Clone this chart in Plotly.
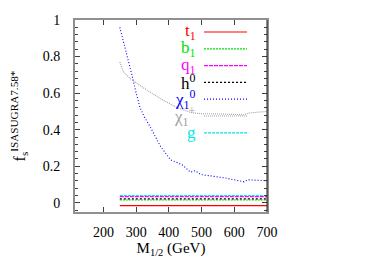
import plotly.graph_objects as go

# ---- data ----
M_chi = [250, 262, 275, 287, 300, 312, 325, 343, 374, 405, 426, 441, 466, 481, 497, 525, 549, 575, 599, 630, 641, 670, 700]
chi0  = [0.96, 0.88, 0.79, 0.70, 0.60, 0.52, 0.47, 0.415, 0.31, 0.235, 0.22, 0.208, 0.168, 0.176, 0.155, 0.150, 0.142, 0.135, 0.127, 0.115, 0.126, 0.124, 0.121]

M_chp = [250, 261, 282, 322, 374, 426, 466, 497, 530, 560, 600, 629, 647, 670, 700]
chip  = [0.77, 0.716, 0.68, 0.63, 0.57, 0.52, 0.495, 0.487, 0.487, 0.486, 0.485, 0.482, 0.492, 0.496, 0.50]

M_flat = [250, 300, 350, 400, 450, 500, 550, 600, 650, 700]
t1 = [-0.015] * len(M_flat)
b1 = [0.016] * len(M_flat)
h0 = [0.022] * len(M_flat)
q1 = [0.034] * len(M_flat)
gl = [0.040] * len(M_flat)

labels = ["t<sub>1</sub>", "b<sub>1</sub>", "q<sub>1</sub>", "h<sup>0</sup>",
          "χ<sub>1</sub><sup>0</sup>", "χ<sub>1</sub><sup>+</sup>", "g"]
colors = ["#ff0000", "#00e000", "#ff00ff", "#000000", "#0000ff", "#a0a0a0", "#00e8e8"]
dashes = ["solid", "2px,1px", "4px,1px", "2px,2px", "1px,2px", "1px,1px", "3px,1px"]

xs = [M_flat, M_flat, M_flat, M_flat, M_chi, M_chp, M_flat]
ys = [t1, b1, q1, h0, chi0, chip, gl]

SERIF = "Liberation Serif, Times New Roman, Times, serif"

fig = go.Figure()
for x, y, c, d in zip(xs, ys, colors, dashes):
    fig.add_trace(go.Scatter(x=x, y=y, mode="lines",
                             line=dict(color=c, width=1.1, dash=d),
                             showlegend=False))

# ---- legend (gnuplot style: text left, sample right) ----
shapes = []
annotations = []
leg_y0 = 0.9375
leg_dy = 0.0875
for i, (lab, c, d) in enumerate(zip(labels, colors, dashes)):
    yy = leg_y0 - i * leg_dy
    shapes.append(dict(type="line", xref="paper", yref="paper",
                       x0=0.672, x1=0.896, y0=yy, y1=yy,
                       line=dict(color=c, width=1.2, dash=d)))
    annotations.append(dict(xref="paper", yref="paper", x=0.64, y=yy,
                            xanchor="right", yanchor="middle", text=lab,
                            showarrow=False,
                            font=dict(family=SERIF, size=17, color=c)))

# right border drawn dark
shapes.append(dict(type="line", xref="paper", yref="paper", x0=1, x1=1, y0=0, y1=1,
                   line=dict(color="#202020", width=1)))

fig.update_layout(
    width=375, height=263,
    margin=dict(l=67, r=116, t=12, b=59, autoexpand=False),
    paper_bgcolor="white", plot_bgcolor="white",
    font=dict(family=SERIF, size=14, color="black"),
    shapes=shapes, annotations=annotations,
    showlegend=False,
)
fig.update_xaxes(range=[113, 700], tickvals=[200, 300, 400, 500, 600, 700],
                 automargin=False,
                 showgrid=False, zeroline=False, showline=True, linecolor="#909090",
                 linewidth=2, mirror="ticks", ticks="inside", ticklen=5,
                 tickcolor="#404040", ticklabelstandoff=6,
                 title=dict(text="M<sub>1/2</sub> (GeV)", standoff=4,
                            font=dict(size=15)))
fig.update_yaxes(range=[-0.05, 1.0], tickvals=[0, 0.2, 0.4, 0.6, 0.8, 1],
                 ticktext=["0", "0.2", "0.4", "0.6", "0.8", "1"],
                 automargin=False,
                 showgrid=False, zeroline=False, showline=True, linecolor="#909090",
                 linewidth=2, mirror="ticks", ticks="inside", ticklen=5,
                 tickcolor="#404040", ticklabelstandoff=10,
                 minor=dict(dtick=0.04, ticks="inside", ticklen=3, tickcolor="#404040"),
                 title=dict(text="f<sub>s</sub><sup>ISASUGRA7.58*</sup>", standoff=14,
                            font=dict(size=16)))

fig.write_html("out.html")
